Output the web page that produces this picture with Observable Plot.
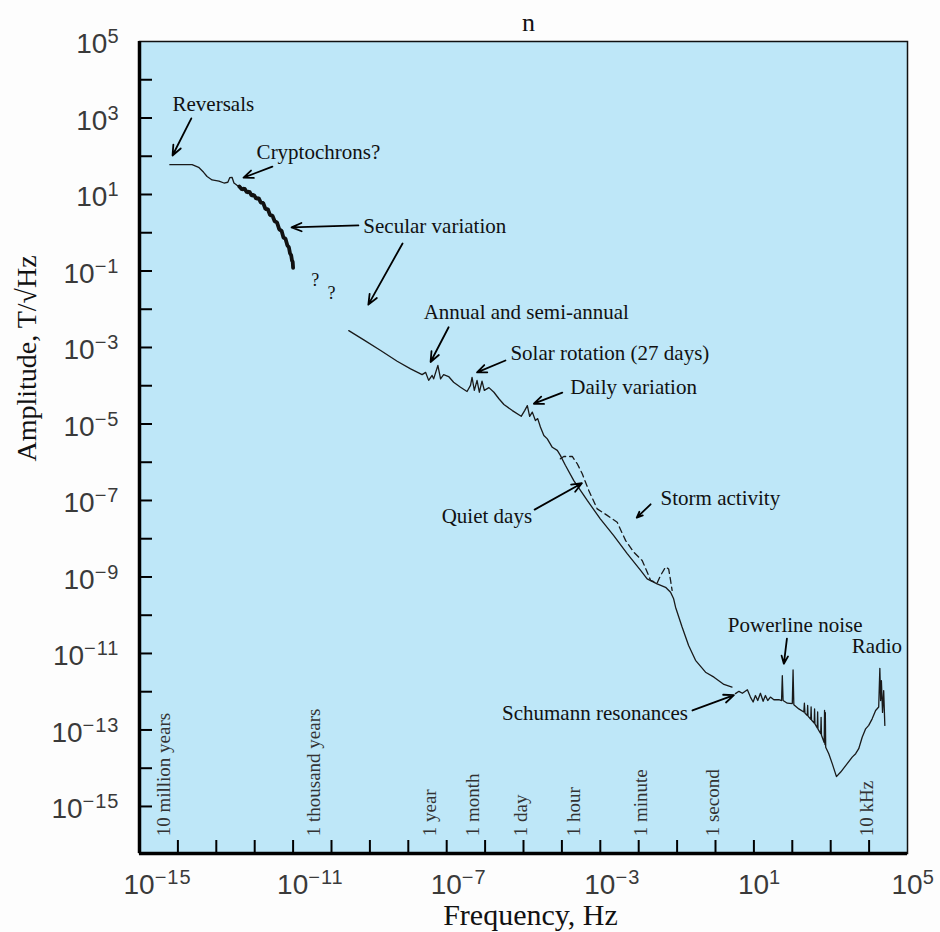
<!DOCTYPE html>
<html><head><meta charset="utf-8">
<script src="https://cdn.jsdelivr.net/npm/d3@7"></script>
<script src="https://cdn.jsdelivr.net/npm/@observablehq/plot@0.6"></script>
<style>
html,body{margin:0;padding:0;background:#fdfdfd;}
#chart{position:absolute;left:0;top:0;}
</style></head><body><div id="chart"></div>
<script>
// ---- data (log10 of frequency [Hz], log10 of amplitude [T/sqrt(Hz)]) ----
const lowSegment = [[-14.21,1.78],[-13.63,1.78],[-13.46,1.71],[-13.33,1.58],[-13.24,1.47],[-13.11,1.38],[-12.93,1.35],[-12.80,1.30],[-12.70,1.32],[-12.65,1.44],[-12.59,1.45],[-12.54,1.30],[-12.46,1.24],[-12.37,1.19]];
const secularBand = [[-12.40,1.21],[-12.33,1.13],[-12.27,1.16],[-12.20,1.05],[-12.14,1.08],[-12.08,0.97],[-12.02,0.99],[-11.96,0.89],[-11.90,0.91],[-11.84,0.79],[-11.78,0.78],[-11.72,0.62],[-11.66,0.62],[-11.60,0.46],[-11.54,0.45],[-11.48,0.30],[-11.42,0.27],[-11.36,0.09],[-11.30,0.05],[-11.25,-0.13],[-11.20,-0.15],[-11.15,-0.33],[-11.11,-0.38],[-11.08,-0.54],[-11.05,-0.59],[-11.03,-0.72],[-11.01,-0.76],[-11.00,-0.92]];
const quietSegment = [[-9.55,-2.56],[-9.16,-2.80],[-8.72,-3.08],[-8.29,-3.36],[-7.94,-3.56],[-7.64,-3.71],[-7.55,-3.65],[-7.47,-3.86],[-7.38,-3.73],[-7.34,-3.82],[-7.23,-3.47],[-7.16,-3.82],[-7.08,-3.71],[-6.95,-3.76],[-6.82,-3.91],[-6.64,-4.04],[-6.47,-4.15],[-6.38,-3.99],[-6.34,-3.78],[-6.28,-4.12],[-6.21,-3.86],[-6.15,-4.17],[-6.08,-3.88],[-6.02,-4.12],[-5.90,-4.05],[-5.77,-4.17],[-5.64,-4.34],[-5.51,-4.49],[-5.29,-4.65],[-5.06,-4.80],[-4.97,-4.65],[-4.90,-4.52],[-4.84,-4.80],[-4.77,-4.69],[-4.69,-4.91],[-4.63,-4.86],[-4.56,-5.08],[-4.47,-5.30],[-4.38,-5.39],[-4.25,-5.61],[-4.12,-5.69],[-4.04,-5.82],[-3.91,-6.08],[-3.69,-6.48],[-3.34,-7.00],[-3.00,-7.48],[-2.65,-7.92],[-2.30,-8.39],[-1.95,-8.83],[-1.78,-9.05],[-1.52,-9.18],[-1.30,-9.27],[-1.17,-9.40],[-1.09,-9.57],[-1.04,-9.79],[-0.87,-10.31],[-0.70,-10.79],[-0.52,-11.18],[-0.26,-11.49],[-0.04,-11.62],[0.22,-11.81],[0.43,-11.88]];
const stormSegment = [[-4.04,-5.91],[-3.95,-5.85],[-3.73,-5.85],[-3.60,-6.04],[-3.47,-6.30],[-3.30,-6.74],[-3.08,-7.22],[-2.82,-7.39],[-2.56,-7.57],[-2.34,-8.05],[-2.13,-8.35],[-1.91,-8.57],[-1.78,-8.87],[-1.69,-9.09],[-1.52,-9.16],[-1.43,-8.96],[-1.30,-8.74],[-1.22,-8.79],[-1.17,-9.09],[-1.13,-9.35]];
const highSegment = [[0.52,-12.05],[0.61,-11.99],[0.70,-12.04],[0.83,-11.95],[0.91,-12.14],[0.98,-12.27],[1.04,-12.10],[1.10,-12.23],[1.17,-12.04],[1.24,-12.25],[1.30,-12.10],[1.36,-12.23],[1.43,-12.14],[1.52,-12.21],[1.65,-12.21],[1.72,-12.23],[1.74,-11.58],[1.76,-12.23],[1.87,-12.30],[2.00,-12.31],[2.02,-11.43],[2.04,-12.34],[2.17,-12.45],[2.30,-12.53],[2.315,-12.30],[2.33,-12.56],[2.39,-12.62],[2.40,-12.36],[2.41,-12.64],[2.48,-12.72],[2.49,-12.40],[2.50,-12.74],[2.57,-12.82],[2.58,-12.45],[2.59,-12.84],[2.65,-12.95],[2.66,-12.53],[2.67,-12.98],[2.74,-13.10],[2.75,-12.67],[2.76,-13.14],[2.83,-13.33],[2.84,-12.49],[2.85,-13.38],[2.86,-12.55],[2.87,-13.45],[2.95,-13.62],[3.04,-13.88],[3.15,-14.22],[3.26,-14.10],[3.43,-13.88],[3.56,-13.71],[3.65,-13.62],[3.73,-13.49],[3.82,-13.19],[3.91,-12.97],[3.99,-12.88],[4.08,-12.71],[4.17,-12.49],[4.25,-12.40],[4.28,-11.39],[4.30,-12.23],[4.32,-11.71],[4.35,-12.54],[4.38,-11.97],[4.41,-12.88]];

const annLabels = ["Reversals","Cryptochrons?","Secular variation","Annual and semi-annual","Solar rotation (27 days)","Daily variation","Quiet days","Storm activity","Powerline noise","Radio","Schumann resonances"];
const annLogF = [-14.14,-11.95,-9.17,-7.60,-5.34,-3.78,-7.13,-1.43,0.32,3.55,-5.56];
const annLogA = [3.35,2.10,0.16,-2.08,-3.15,-4.05,-7.42,-6.93,-10.26,-10.80,-12.57];
// arrows: [logF start, logA start, logF end, logA end]
const annArrows = [[-13.65,2.99,-14.14,2.02],[-11.54,1.73,-12.29,1.44],[-9.30,0.19,-11.04,0.14],[-8.15,-0.28,-9.04,-1.88],[-6.95,-2.47,-7.42,-3.38],[-5.47,-3.34,-6.21,-3.65],[-3.99,-4.18,-4.73,-4.47],[-4.71,-7.24,-3.48,-6.55],[-1.69,-7.10,-2.05,-7.45],[1.86,-10.61,1.78,-11.27],[-0.60,-12.49,0.48,-12.09]];
const questionMarks = [[-10.42,-1.25],[-10.00,-1.59]];

const periodLabels = ["10 million years","1 thousand years","1 year","1 month","1 day","1 hour","1 minute","1 second","10 kHz"];
const periodLogF = [-14.36,-10.47,-7.45,-6.33,-5.08,-3.70,-1.93,-0.08,3.93];
const periodBaseLogA = -15.78;

const xTickExp = [-14,-13,-12,-11,-10,-9,-8,-7,-6,-5,-4,-3,-2,-1,0,1,2,3,4];
const xLabelExp = [-15,-11,-7,-3,1,5];
const yTickExp = [-15,-14,-13,-12,-11,-10,-9,-8,-7,-6,-5,-4,-3,-2,-1,0,1,2,3,4];
const yLabelExp = [5,3,1,-1,-3,-5,-7,-9,-11,-13,-15];
const xDomainExp = [-15, 5];
const yDomainExp = [-16.23, 5];

// ---- build ----
const P = v => Math.pow(10, v);
const pts = arr => arr.map(([f, a]) => ({f: P(f), a: P(a)}));
const serif = "'Liberation Serif','Times New Roman',serif";
const sans = "'Liberation Sans',Arial,sans-serif";
const ink = "#1a1a1a";

const chart = Plot.plot({
  width: 940, height: 932,
  marginLeft: 139, marginRight: 33, marginTop: 41, marginBottom: 79,
  style: {background: "transparent", fontFamily: serif, overflow: "visible"},
  x: {type: "log", domain: xDomainExp.map(P), axis: null, label: null},
  y: {type: "log", domain: yDomainExp.map(P), axis: null, label: null},
  marks: [
    Plot.frame({fill: "#bee7f8", stroke: "#111", strokeWidth: 1.5}),
    Plot.ruleX([P(xDomainExp[0])], {stroke: "#000", strokeWidth: 3.5}),
    Plot.ruleY([P(yDomainExp[0])], {stroke: "#000", strokeWidth: 3.5}),
    // inward ticks
    Plot.axisX({ticks: xTickExp.map(P), tickSize: 13, dy: -13, tickFormat: () => "", stroke: "#000", strokeWidth: 2, label: null}),
    Plot.axisY({ticks: yTickExp.map(P), tickSize: 13, dx: 13, tickFormat: () => "", stroke: "#000", strokeWidth: 2, label: null}),
    // tick labels
    Plot.axisX({ticks: xLabelExp.map(P), tickSize: 0, tickPadding: 21, tickFormat: d => "10^" + Math.round(Math.log10(d)),
      fontSize: 28, fontFamily: sans, fill: "#3a3a3a", textAnchor: "start", dx: -16, label: null}),
    Plot.axisY({ticks: yLabelExp.map(P), tickSize: 0, tickPadding: 20, dy: 3, tickFormat: d => "10^" + Math.round(Math.log10(d)),
      fontSize: 28, fontFamily: sans, fill: "#3a3a3a", label: null}),
    // curves
    Plot.line(pts(lowSegment), {x: "f", y: "a", stroke: ink, strokeWidth: 1.3}),
    Plot.line(pts(secularBand), {x: "f", y: "a", stroke: "#111", strokeWidth: 3.8, strokeLinejoin: "miter"}),
    Plot.line(pts(quietSegment), {x: "f", y: "a", stroke: ink, strokeWidth: 1.3}),
    Plot.line(pts(stormSegment), {x: "f", y: "a", stroke: ink, strokeWidth: 1.3, strokeDasharray: "6,4"}),
    Plot.line(pts(highSegment), {x: "f", y: "a", stroke: ink, strokeWidth: 1.3}),
    // annotations
    Plot.arrow(annArrows, {x1: d => P(d[0]), y1: d => P(d[1]), x2: d => P(d[2]), y2: d => P(d[3]),
      stroke: "#000", strokeWidth: 1.8, headLength: 9, headAngle: 45}),
    Plot.text(annLabels, {x: (d, i) => P(annLogF[i]), y: (d, i) => P(annLogA[i]), text: d => d,
      textAnchor: "start", fontSize: 21, fontFamily: serif, fill: "#111"}),
    Plot.text(questionMarks, {x: d => P(d[0]), y: d => P(d[1]), text: () => "?", fontSize: 18, fontFamily: serif, fill: "#111"}),
    Plot.text(periodLabels, {x: (d, i) => P(periodLogF[i]), y: () => P(periodBaseLogA), text: d => d, rotate: -90,
      textAnchor: "start", fontSize: 19, fontFamily: serif, fill: "#333"}),
    // titles
    Plot.text(["Frequency, Hz"], {frameAnchor: "bottom", textAnchor: "middle", lineAnchor: "top", dy: 50, dx: 7, fontSize: 30, fontFamily: serif, fill: "#111"}),
    Plot.text(["Amplitude, T/\u221AHz"], {frameAnchor: "left", textAnchor: "middle", rotate: -90, dx: -112, dy: -89, fontSize: 28, fontFamily: serif, fill: "#111"}),
    Plot.text(["n"], {frameAnchor: "top", textAnchor: "middle", dx: 5, dy: -29, fontSize: 26, fontFamily: serif, fill: "#111"})
  ]
});

// superscript exponents on tick labels
chart.querySelectorAll('g[aria-label$="-axis tick label"] text').forEach(t => {
  const s = t.textContent;
  if (!s.startsWith("10^")) return;
  const e = s.slice(3).replace("-", "\u2212");
  t.textContent = "10";
  const ts = document.createElementNS("http://www.w3.org/2000/svg", "tspan");
  ts.setAttribute("dy", "-10");
  ts.setAttribute("font-size", "20");
  ts.setAttribute("letter-spacing", "1");
  ts.textContent = e;
  t.appendChild(ts);
});

document.getElementById("chart").appendChild(chart);
</script>
</body></html>
